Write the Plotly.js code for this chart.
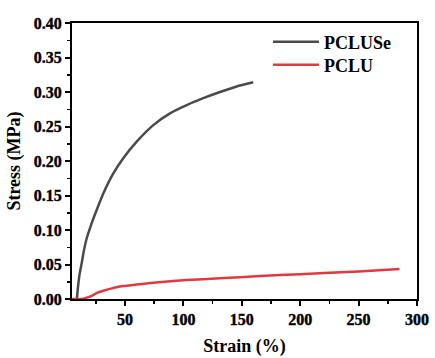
<!DOCTYPE html>
<html><head><meta charset="utf-8">
<script src="https://cdn.plot.ly/plotly-3.0.1.min.js"></script>
<style>html,body{margin:0;padding:0;background:#fff}#chart{width:435px;height:358px}
#chart .xtick text, #chart .ytick text{font-weight:700 !important; stroke:#000; stroke-width:0.4px}</style>
</head><body><div id="chart"></div>
<script>
const seriesNames = ["PCLUSe", "PCLU"];
const pcluseStrain = [8.8, 9.6, 11, 12.9, 15, 17.2, 21.5, 25.7, 31.4, 40, 48.5, 60, 74.2, 88.5, 102.8, 117, 131.3, 145.6, 159.8];
const pcluseStress = [0, 0.015, 0.035, 0.052, 0.072, 0.088, 0.110, 0.129, 0.153, 0.182, 0.204, 0.228, 0.252, 0.269, 0.281, 0.291, 0.300, 0.308, 0.314];
const pcluStrain = [4.6, 12, 17.2, 22, 26, 31.4, 38, 45.7, 60, 74.2, 102.8, 131, 165.6, 200, 250, 285];
const pcluStress = [0, 0, 0.002, 0.005, 0.009, 0.012, 0.015, 0.018, 0.021, 0.0237, 0.0275, 0.030, 0.0333, 0.036, 0.040, 0.0435];
const xTicks = [50, 100, 150, 200, 250, 300];
const yTicks = [0, 0.05, 0.10, 0.15, 0.20, 0.25, 0.30, 0.35, 0.40];

const fontFam = "'Liberation Serif', 'Times New Roman', serif";
const legFont = {family: fontFam, size: 18, color: "#000", weight: 700};
const traces = [
  {x: pcluseStrain, y: pcluseStress, name: seriesNames[0], mode: "lines", legend: "legend",
   line: {color: "#4a4a4a", width: 2.5, shape: "spline", smoothing: 0.5}},
  {x: pcluStrain, y: pcluStress, name: seriesNames[1], mode: "lines", legend: "legend2",
   line: {color: "#e0393e", width: 2.5, shape: "spline", smoothing: 0.5}}
];
const axisCommon = {
  showgrid: false, zeroline: false, showline: true, linecolor: "#000", linewidth: 2,
  mirror: true, ticks: "outside", ticklen: 5, tickwidth: 2, tickcolor: "#000",
  tickfont: {family: fontFam, size: 16, color: "#000", weight: 700}
};
const legCommon = {xanchor: "left", yanchor: "middle", bgcolor: "rgba(0,0,0,0)", itemwidth: 46, font: legFont};
const layout = {
  width: 435, height: 358,
  margin: {l: 72, r: 18, t: 23, b: 59},
  paper_bgcolor: "#fff", plot_bgcolor: "#fff",
  showlegend: true,
  legend: Object.assign({x: 0.568, y: 0.931}, legCommon),
  legend2: Object.assign({x: 0.568, y: 0.848}, legCommon),
  xaxis: Object.assign({}, axisCommon, {
    range: [4.6, 300], tickvals: xTicks, ticktext: xTicks.map(String),
    minor: {ticks: "outside", ticklen: 3, tickwidth: 1.5, tickcolor: "#000", tickvals: [25, 75, 125, 175, 225, 275]},
    title: {text: "Strain (%)", font: {family: fontFam, size: 18, color: "#000", weight: 700}, standoff: 12}
  }),
  yaxis: Object.assign({}, axisCommon, {
    range: [0, 0.40], tickvals: yTicks, ticktext: yTicks.map(v => v.toFixed(2)),
    minor: {ticks: "outside", ticklen: 3, tickwidth: 1.5, tickcolor: "#000", dtick: 0.025, tick0: 0},
    title: {text: "Stress (MPa)", font: {family: fontFam, size: 18, color: "#000", weight: 700}, standoff: 8}
  })
};
Plotly.newPlot("chart", traces, layout, {displayModeBar: false, staticPlot: true});
</script></body></html>
